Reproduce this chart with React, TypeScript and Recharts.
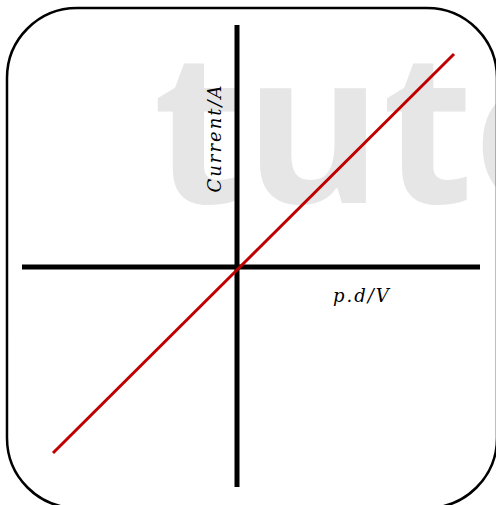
import { LineChart, Line, XAxis, YAxis, ReferenceLine } from 'recharts';

// straight-line I–V graph through the origin (units: 100px per unit)
const pd = [-1.84, 2.17];
const current = [-1.86, 2.13];
const xDomain = [-2.15, 2.43];
const yDomain = [-2.2, 2.42];
const xLabel = 'p.d/V';
const yLabel = 'Current/A';
const watermark = 'tuto';

const data = pd.map((v, i) => ({ pd: v, current: current[i] }));

const labelFont = {
  fontFamily: '"DejaVu Serif", serif',
  fontStyle: 'italic',
  fontSize: 18,
  letterSpacing: 2,
  fill: '#000',
};

function YLabel(props: any) {
  const { viewBox } = props;
  const x = viewBox.x - 16;
  const y = viewBox.y + 113;
  return (
    <text x={x} y={y} textAnchor="middle" transform={`rotate(-90 ${x} ${y})`} style={labelFont}>
      {yLabel}
    </text>
  );
}

function XLabel(props: any) {
  const { viewBox } = props;
  return (
    <text x={viewBox.x + 311} y={viewBox.y + 35} style={labelFont}>
      {xLabel}
    </text>
  );
}

export default function App() {
  return (
    <div style={{ position: 'absolute', left: 0, top: 0, width: 496, height: 505, overflow: 'hidden', background: '#fff' }}>
      <svg width={496} height={505} style={{ position: 'absolute', left: 0, top: 0 }}>
        <text
          x={153}
          y={203}
          style={{ fontFamily: '"Open Sans", sans-serif', fontWeight: 700, fontSize: 210, fill: '#e6e6e6' }}
        >
          {watermark}
        </text>
        <rect x={7} y={8} width={490} height={500} rx={70} ry={70} fill="none" stroke="#000" strokeWidth={2.5} />
      </svg>
      <div style={{ position: 'absolute', left: 0, top: 0 }}>
        <LineChart width={496} height={505} data={data} margin={{ top: 25, right: 16, bottom: 18, left: 22 }}>
          <XAxis dataKey="pd" type="number" domain={xDomain} hide />
          <YAxis type="number" domain={yDomain} hide />
          <ReferenceLine y={0} stroke="#000" strokeWidth={5} label={XLabel} />
          <ReferenceLine x={0} stroke="#000" strokeWidth={5} label={YLabel} />
          <Line dataKey="current" stroke="#C00000" strokeWidth={3} dot={false} isAnimationActive={false} />
        </LineChart>
      </div>
    </div>
  );
}
